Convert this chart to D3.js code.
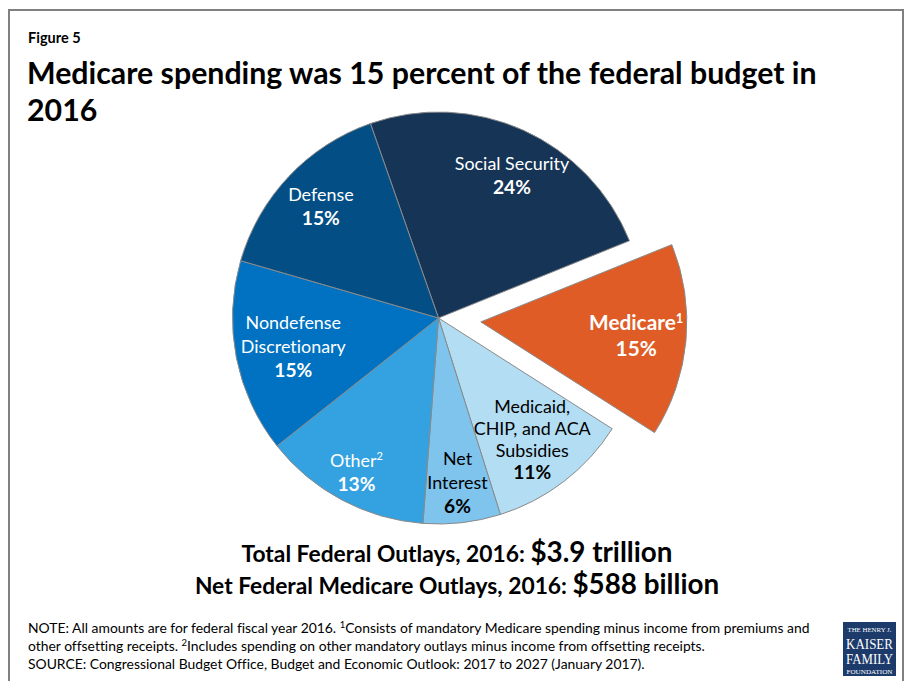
<!DOCTYPE html>
<html>
<head>
<meta charset="utf-8">
<script src="https://cdn.jsdelivr.net/npm/d3@7"></script>
<style>
  html, body { margin: 0; padding: 0; background: #fff; }
  svg { display: block; font-family: Lato, "Open Sans", sans-serif; font-variant-ligatures: none; }
</style>
</head>
<body>
<svg id="chart" width="908" height="681"></svg>
<script>
// Federal outlays by category, FY2016 (share of total, percent)
const categories = ["Social Security", "Medicare", "Medicaid, CHIP, and ACA Subsidies",
  "Net Interest", "Other", "Nondefense Discretionary", "Defense"];
const shares = [24, 15, 11, 6, 13, 15, 15];
// How each category name is broken over lines inside its slice
const nameLines = [["Social Security"], ["Medicare"], ["Medicaid,", "CHIP, and ACA", "Subsidies"],
  ["Net", "Interest"], ["Other"], ["Nondefense", "Discretionary"], ["Defense"]];
const footnoteMarks = ["", "1", "", "", "2", "", ""];
const highlighted = "Medicare";

const titleText = "Medicare spending was 15 percent of the federal budget in";
const titleText2 = "2016";
const totals = [
  { lead: "Total Federal Outlays, 2016: ", value: "$3.9 trillion" },
  { lead: "Net Federal Medicare Outlays, 2016: ", value: "$588 billion" }
];
const notes = [
  [["NOTE: All amounts are for federal fiscal year 2016. "], ["1", true], ["Consists of mandatory Medicare spending minus income from premiums and"]],
  [["other offsetting receipts. "], ["2", true], ["Includes spending on other mandatory outlays minus income from offsetting receipts."]],
  [["SOURCE: Congressional Budget Office, Budget and Economic Outlook: 2017 to 2027 (January 2017)."]]
];
const logoLines = ["THE HENRY J.", "KAISER", "FAMILY", "FOUNDATION"];

// Styling
const fill = {
  "Social Security": "#163456",
  "Medicare": "#df5c26",
  "Medicaid, CHIP, and ACA Subsidies": "#b3ddf3",
  "Net Interest": "#7ec4ec",
  "Other": "#34a2e0",
  "Nondefense Discretionary": "#0072c1",
  "Defense": "#034f85"
};
const darkText = new Set(["Net Interest", "Medicaid, CHIP, and ACA Subsidies"]);
// label placement: distance from the pie centre and a small angular nudge (degrees)
const labelRadius = {
  "Social Security": 160, "Medicare": 156, "Medicaid, CHIP, and ACA Subsidies": 154,
  "Net Interest": 166, "Other": 175, "Nondefense Discretionary": 148, "Defense": 162
};
const labelNudge = { "Social Security": 3 };

const svg = d3.select("#chart");

// frame
svg.append("rect").attr("x", 9).attr("y", 10).attr("width", 894).attr("height", 680)
  .attr("fill", "none").attr("stroke", "#808080").attr("stroke-width", 2);

svg.append("text").attr("x", 28).attr("y", 43)
  .attr("font-size", 14.5).attr("font-weight", 700).attr("fill", "#000").text("Figure 5");
svg.append("text").attr("x", 27).attr("y", 84)
  .attr("font-size", 30.3).attr("font-weight", 700).attr("fill", "#000").text(titleText);
svg.append("text").attr("x", 27).attr("y", 121)
  .attr("font-size", 30.3).attr("font-weight", 700).attr("fill", "#000").text(titleText2);

// Pie
const cx = 438.5, cy = 318, R = 206, explode = 42.5;
const deg = Math.PI / 180;
const pie = d3.pie().sort(null).value(d => d.value)
  .startAngle(-19.3 * deg).endAngle((360 - 19.3) * deg);
const rows = categories.map((c, i) => ({ name: c, value: shares[i], lines: nameLines[i], mark: footnoteMarks[i] }));
const arcs = pie(rows);
const arc = d3.arc().innerRadius(0).outerRadius(R);

const g = svg.append("g").attr("transform", `translate(${cx},${cy})`);
const slice = g.selectAll("g.slice").data(arcs).join("g").attr("class", "slice")
  .attr("transform", d => {
    if (d.data.name !== highlighted) return null;
    const a = (d.startAngle + d.endAngle) / 2;
    return `translate(${Math.sin(a) * explode},${-Math.cos(a) * explode})`;
  });

slice.append("path").attr("d", arc)
  .attr("fill", d => fill[d.data.name])
  .attr("stroke", "#8a8a8a").attr("stroke-width", 1).attr("stroke-linejoin", "round");

slice.each(function (d) {
  const sel = d3.select(this);
  const isHi = d.data.name === highlighted;
  const r = labelRadius[d.data.name];
  const nudge = (labelNudge[d.data.name] || 0) * deg;
  const la = d3.arc().innerRadius(r).outerRadius(r);
  const [lx, ly] = la.centroid({ startAngle: d.startAngle + nudge, endAngle: d.endAngle + nudge });
  const color = darkText.has(d.data.name) ? "#000" : "#fff";
  const lineH = d.data.lines.length >= 3 ? 22 : (isHi ? 26 : 24);
  const fs = isHi ? 20.8 : 17.9;
  const n = d.data.lines.length + 1;
  const top = ly - (n - 1) * lineH / 2 + fs * 0.35;
  const t = sel.append("text").attr("text-anchor", "middle").attr("fill", color).attr("font-size", fs);
  d.data.lines.forEach((line, i) => {
    t.append("tspan").attr("x", lx).attr("y", top + i * lineH)
      .attr("font-weight", isHi ? 700 : 400).text(line);
    if (i === d.data.lines.length - 1 && d.data.mark) {
      t.append("tspan").attr("dy", -fs * 0.38).attr("font-size", fs * 0.62)
        .attr("font-weight", isHi ? 700 : 400).text(d.data.mark);
    }
  });
  t.append("tspan").attr("x", lx).attr("y", top + (n - 1) * lineH)
    .attr("font-weight", 700).attr("font-size", isHi ? 20.8 : 19.2)
    .text(d3.format("d")(d.data.value) + "%");
});

// Totals
totals.forEach((row, i) => {
  const t = svg.append("text").attr("x", 457).attr("y", 561.5 + i * 32.5)
    .attr("text-anchor", "middle").attr("font-weight", 700).attr("fill", "#000");
  t.append("tspan").attr("font-size", 22.8).text(row.lead);
  t.append("tspan").attr("font-size", 27.8).text(row.value);
});

// Notes
notes.forEach((parts, i) => {
  const t = svg.append("text").attr("x", 28).attr("y", 633 + i * 18)
    .attr("font-size", 13.9).attr("fill", "#000");
  let raised = false;
  parts.forEach(([s, sup]) => {
    if (sup) {
      t.append("tspan").attr("dy", -5).attr("font-size", 9.5).text(s);
      raised = true;
    } else {
      const ts = t.append("tspan").text(s);
      if (raised) { ts.attr("dy", 5); raised = false; }
    }
  });
});

// Foundation logo
const logo = svg.append("g").attr("transform", "translate(843,622)");
logo.append("rect").attr("width", 53).attr("height", 54).attr("fill", "#1c3a6a");
const serif = "'Liberation Serif', 'DejaVu Serif', serif";
const logoSpec = [
  { y: 10, size: 6.2, len: 44 },
  { y: 27, size: 14, len: 47 },
  { y: 42, size: 14, len: 47 },
  { y: 51.5, size: 5.8, len: 46 }
];
logoLines.forEach((s, i) => {
  logo.append("text").attr("x", 26.5).attr("y", logoSpec[i].y).attr("text-anchor", "middle")
    .attr("font-family", serif).attr("font-size", logoSpec[i].size).attr("fill", "#fff")
    .attr("textLength", logoSpec[i].len).attr("lengthAdjust", "spacingAndGlyphs").text(s);
});
</script>
</body>
</html>
